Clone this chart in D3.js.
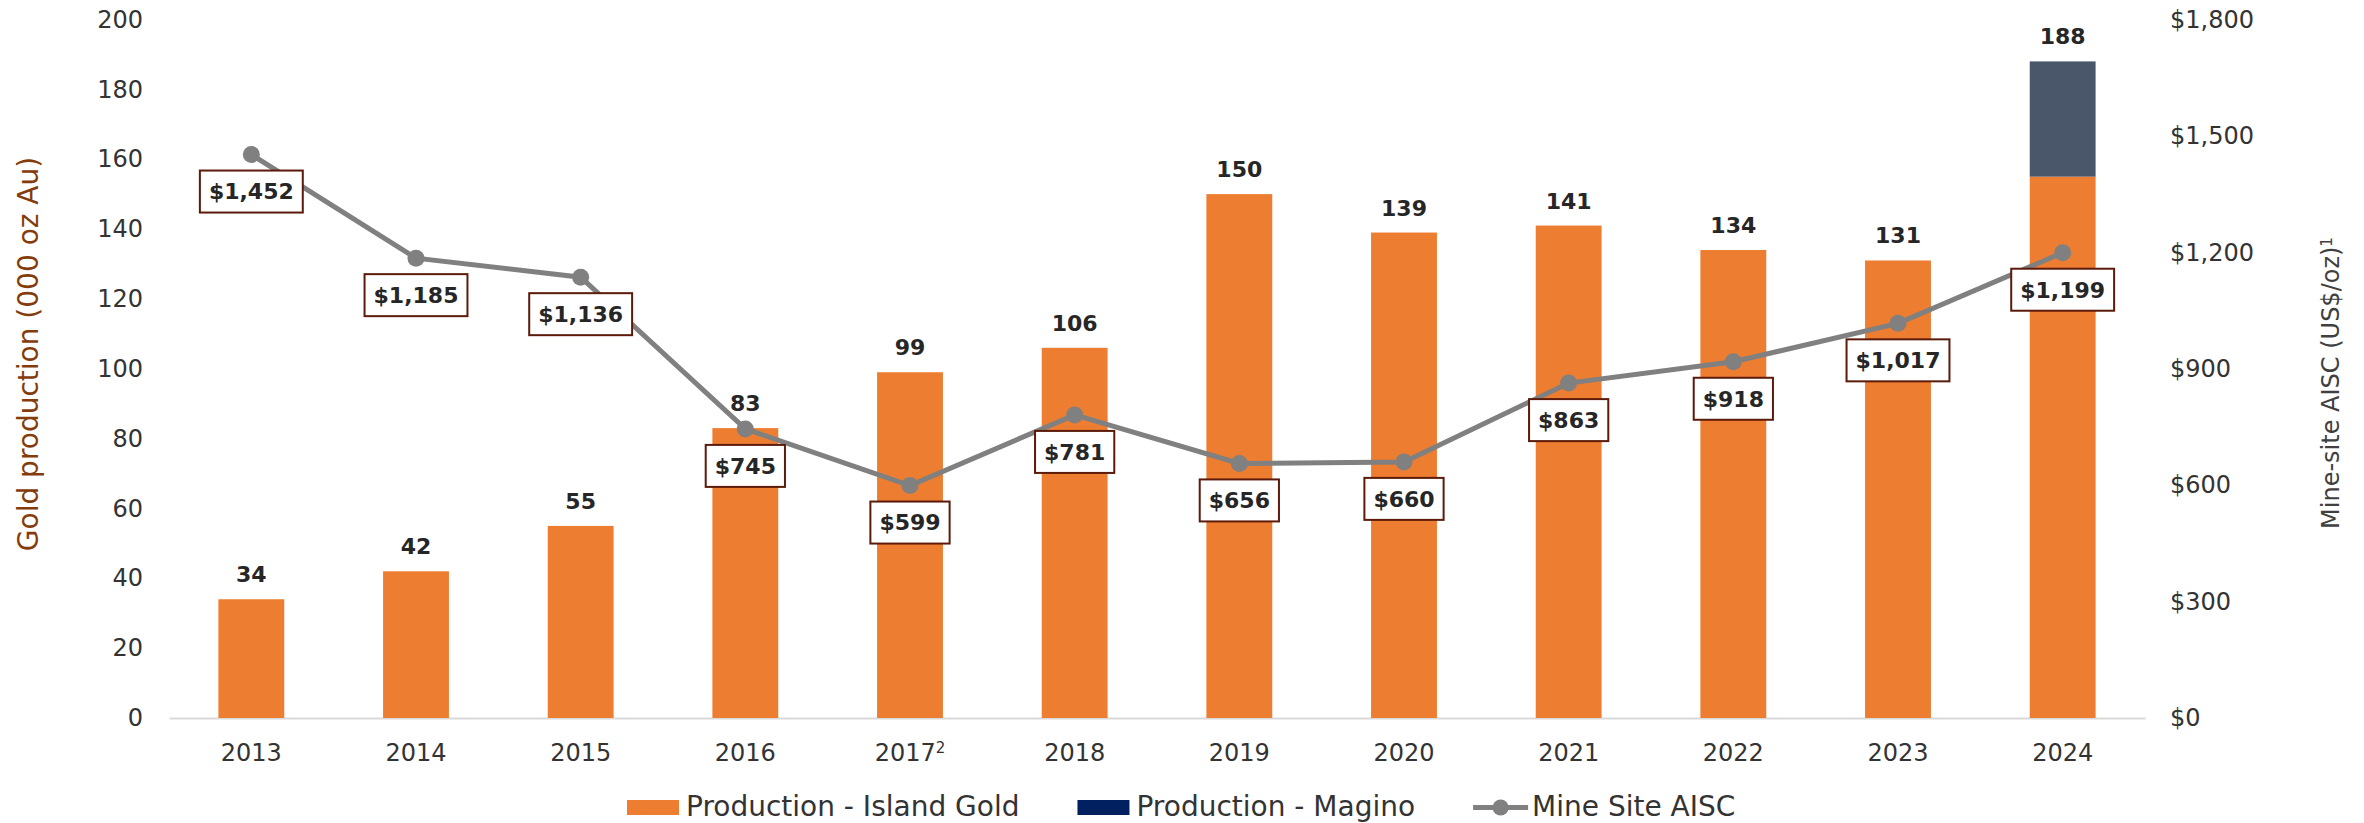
<!DOCTYPE html>
<html>
<head>
<meta charset="utf-8">
<script src="https://cdn.jsdelivr.net/npm/d3@7"></script>
<style>
  html, body { margin: 0; padding: 0; background: #fff; }
  svg { display: block; font-family: "DejaVu Sans", sans-serif; }
</style>
</head>
<body>
<div id="chart"></div>
<script>
// ---- data ----
const years = ["2013", "2014", "2015", "2016", "2017", "2018", "2019", "2020", "2021", "2022", "2023", "2024"];
const islandGold = [34, 42, 55, 83, 99, 106, 150, 139, 141, 134, 131, 155];
const magino = [0, 0, 0, 0, 0, 0, 0, 0, 0, 0, 0, 33];
const aisc = [1452, 1185, 1136, 745, 599, 781, 656, 660, 863, 918, 1017, 1199];
const footnotes = { "2017": "2" };
const leftTicks = [0, 20, 40, 60, 80, 100, 120, 140, 160, 180, 200];
const rightTicks = [0, 300, 600, 900, 1200, 1500, 1800];

const W = 2364, H = 823;
const colors = { island: "#ED7D31", magino: "#4A5669", maginoKey: "#002060", line: "#808080", box: "#5B1A0A" };

const svg = d3.select("#chart").append("svg")
    .attr("width", W).attr("height", H);

// scales
const x = d3.scaleBand().domain(years).range([169, 2145])
    .paddingInner(0.6).paddingOuter(0.3);
const yL = d3.scaleLinear().domain([0, 200]).range([718, 19.5]);
const yR = d3.scaleLinear().domain([0, 1800]).range([718, 19.5]);

// rows for stacking
const rows = years.map((y, i) => ({ year: y, island: islandGold[i], magino: magino[i], aisc: aisc[i] }));
const stack = d3.stack().keys(["island", "magino"])(rows);

// axes
const axL = svg.append("g").attr("transform", "translate(169,0)")
    .call(d3.axisLeft(yL).tickValues(leftTicks).tickSize(0).tickPadding(26));
const axR = svg.append("g").attr("transform", "translate(2145,0)")
    .call(d3.axisRight(yR).tickValues(rightTicks).tickSize(0).tickPadding(25)
        .tickFormat(d => "$" + d3.format(",")(d)));
[axL, axR].forEach(g => {
    g.select(".domain").remove();
    g.selectAll("text").attr("font-size", 24).attr("fill", "#333")
        .attr("font-family", "DejaVu Sans");
});

const axX = svg.append("g").attr("transform", "translate(0,718)")
    .call(d3.axisBottom(x).tickSize(0).tickSizeOuter(0).tickPadding(26));
axX.select(".domain").attr("stroke", "#d9d9d9").attr("stroke-width", 2);
axX.selectAll("text").attr("font-size", 24).attr("fill", "#333")
    .attr("font-family", "DejaVu Sans")
    .each(function (d) {
        if (footnotes[d]) {
            d3.select(this).append("tspan")
                .attr("dy", "-0.55em").attr("font-size", 15).text(footnotes[d]);
        }
    });

// bars
svg.append("g").selectAll("g")
    .data(stack).join("g")
    .attr("fill", s => s.key === "island" ? colors.island : colors.magino)
    .selectAll("rect")
    .data(s => s.filter(d => d[1] > d[0]))
    .join("rect")
    .attr("x", d => x(d.data.year))
    .attr("width", x.bandwidth())
    .attr("y", d => yL(d[1]))
    .attr("height", d => yL(d[0]) - yL(d[1]));

// bar totals
svg.append("g").selectAll("text")
    .data(rows).join("text")
    .attr("x", d => x(d.year) + x.bandwidth() / 2)
    .attr("y", d => yL(d.island + d.magino) - 17)
    .attr("text-anchor", "middle")
    .attr("font-size", 22).attr("font-weight", "bold").attr("fill", "#262626")
    .text(d => d.island + d.magino);

// AISC line
const cx = d => x(d.year) + x.bandwidth() / 2;
svg.append("path")
    .datum(rows)
    .attr("fill", "none").attr("stroke", colors.line).attr("stroke-width", 5)
    .attr("d", d3.line().x(cx).y(d => yR(d.aisc)));
svg.append("g").selectAll("circle")
    .data(rows).join("circle")
    .attr("cx", cx).attr("cy", d => yR(d.aisc)).attr("r", 8.5)
    .attr("fill", colors.line);

// AISC boxed labels
const lbl = svg.append("g").selectAll("g")
    .data(rows).join("g")
    .attr("transform", d => `translate(${cx(d)},${yR(d.aisc) + 37})`);
lbl.append("rect").attr("fill", "#fff").attr("stroke", colors.box).attr("stroke-width", 2);
lbl.append("text")
    .attr("text-anchor", "middle").attr("dy", "0.36em")
    .attr("font-size", 22).attr("font-weight", "bold").attr("fill", "#262626")
    .text(d => "$" + d3.format(",")(d.aisc));
lbl.each(function () {
    const g = d3.select(this);
    const w = g.select("text").node().getComputedTextLength() + 18;
    g.select("rect").attr("x", -w / 2).attr("y", -21).attr("width", w).attr("height", 42);
});

// axis titles
svg.append("text")
    .attr("transform", "translate(28,354) rotate(-90)")
    .attr("text-anchor", "middle").attr("dy", "0.35em")
    .attr("font-size", 28).attr("fill", "#843C0C")
    .text("Gold production (000 oz Au)");
const rt = svg.append("text")
    .attr("transform", "translate(2331,383) rotate(-90)")
    .attr("text-anchor", "middle").attr("dy", "0.35em")
    .attr("font-size", 24).attr("fill", "#404040")
    .text("Mine-site AISC (US$/oz)");
rt.append("tspan").attr("dy", "-0.5em").attr("font-size", 15).text("1");

// legend
const legend = svg.append("g").attr("font-size", 28).attr("fill", "#333");
const keys = [
    { label: "Production - Island Gold", type: "rect", color: colors.island },
    { label: "Production - Magino", type: "rect", color: colors.maginoKey },
    { label: "Mine Site AISC", type: "line", color: colors.line }
];
let lx = 627;
keys.forEach(k => {
    if (k.type === "rect") {
        legend.append("rect").attr("x", lx).attr("y", 800).attr("width", 52).attr("height", 15)
            .attr("fill", k.color);
    } else {
        legend.append("line").attr("x1", lx).attr("x2", lx + 55).attr("y1", 807.5).attr("y2", 807.5)
            .attr("stroke", k.color).attr("stroke-width", 5);
        legend.append("circle").attr("cx", lx + 27.5).attr("cy", 807.5).attr("r", 8).attr("fill", k.color);
    }
    const t = legend.append("text").attr("x", lx + 59).attr("y", 815.5).text(k.label);
    lx += 59 + t.node().getComputedTextLength() + 58;
});
</script>
</body>
</html>
